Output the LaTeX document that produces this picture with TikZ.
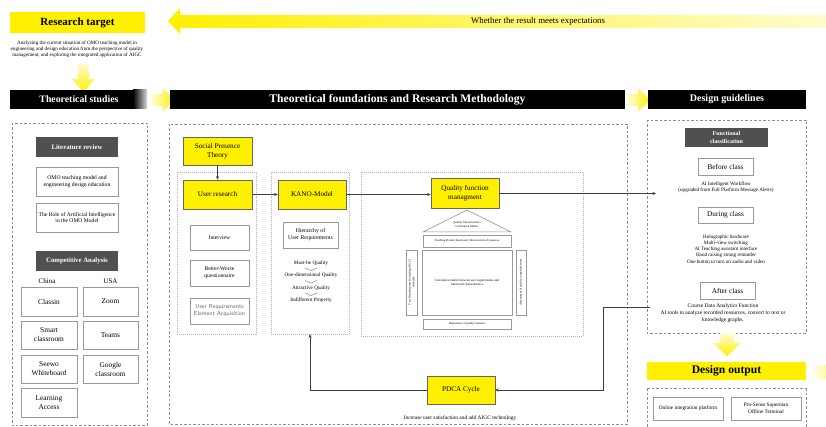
\documentclass[tikz,border=0pt]{standalone}
\usepackage{fontspec}
\setmainfont{Liberation Serif}
\usetikzlibrary{arrows.meta}
\definecolor{ylw}{RGB}{255,240,0}
\definecolor{dgray}{RGB}{80,80,80}
\begin{document}
\begin{tikzpicture}[x=1pt,y=-1pt,
  fs/.style={font=\fontsize{#1}{\fpeval{#1*1.22}}\selectfont},
  box/.style={draw=black!40, line width=0.5pt, fill=white, align=center, inner sep=1pt, fs=5.5},
  ybox/.style={draw=black!60, line width=0.5pt, fill=ylw, align=center, inner sep=1pt, fs=7.2},
  dbox/.style={fill=dgray, text=white, align=center, inner sep=1pt, font=\bfseries\fontsize{6.8}{8}\selectfont},
  bar/.style={fill=black, text=white, inner sep=0pt},
  dashbox/.style={draw=black!45, line width=0.5pt, dash pattern=on 2.5pt off 2pt},
  dotbox/.style={draw=black!30, line width=0.4pt, dash pattern=on 1pt off 1pt},
  conn/.style={draw=black!75, line width=0.7pt, -{Stealth[length=3.5pt,width=3pt]}},
  txt/.style={align=center, inner sep=0pt, fs=5}
]
\useasboundingbox[fill=white] (0,0) rectangle (826,427);

% ---------- top feedback arrow ----------
\shade[left color=ylw, right color=ylw!20] (168,21) -- (180,8) -- (180,15) -- (826,15) -- (826,28) -- (180,28) -- (180,34) -- cycle;
\node[inner sep=0pt, fs=8.8] (whether) at (538,21) {Whether the result meets expectations};

% ---------- research target ----------
\node[fill=ylw, minimum width=135, minimum height=21, inner sep=0pt, font=\bfseries\fontsize{11}{12}\selectfont] (rt) at (77.5,22.5) {Research target};
\node[txt, fs=5.1] (rtdesc) at (77,49) {Analyzing the current situation of OMO teaching model in\\engineering and design education from the perspective of quality\\management, and exploring the integrated application of AIGC};
\shade[top color=ylw!15, bottom color=ylw] (78,63) -- (89,63) -- (89,79) -- (95,79) -- (83.5,92) -- (72,79) -- (78,79) -- cycle;

% ---------- header bars ----------
\fill[black] (10,90) rectangle (133,109);
\shade[left color=black, right color=black!15] (133,90) rectangle (147,109);
\node[inner sep=0pt, text=white, font=\bfseries\fontsize{9.8}{11}\selectfont] (ts) at (79,99.5) {Theoretical studies};
\shade[left color=ylw!10, right color=ylw] (150,94) -- (163,94) -- (163,88) -- (174,100) -- (163,112) -- (163,106) -- (150,106) -- cycle;
\node[bar, minimum width=455, minimum height=19, font=\bfseries\fontsize{11.6}{13}\selectfont] (tf) at (397.5,99.5) {Theoretical foundations and Research Methodology};
\shade[left color=ylw!10, right color=ylw] (626,94) -- (638,94) -- (638,88) -- (650,100) -- (638,112) -- (638,106) -- (626,106) -- cycle;
\node[bar, minimum width=158, minimum height=19, font=\bfseries\fontsize{10}{12}\selectfont] (dg) at (727,99.5) {Design guidelines};

% ---------- left column ----------
\draw[dashbox] (12,123) rectangle (147,425);
\node[dbox, minimum width=82, minimum height=20] (lit) at (77,147) {Literature review};
\node[box, minimum width=82, minimum height=29, fs=5.7] (omo) at (77,181.5) {OMO teaching model and\\engineering design education};
\node[box, minimum width=82, minimum height=29, fs=5.6] (role) at (77,217.5) {The Role of Artificial Intelligence\\in the OMO Model};
\node[dbox, minimum width=82, minimum height=20] (comp) at (77,261) {Competitive Analysis};
\node[inner sep=0pt, fs=7] (china) at (47,281) {China};
\node[inner sep=0pt, fs=7] (usa) at (110.5,281) {USA};
\node[box, minimum width=56, minimum height=29, fs=7.4] (classin) at (49,301.5) {Classin};
\node[box, minimum width=55, minimum height=29, fs=7.4] (zoom) at (110.5,301.5) {Zoom};
\node[box, minimum width=56, minimum height=28, fs=7.4] (smart) at (49,335) {Smart\\classroom};
\node[box, minimum width=55, minimum height=28, fs=7.4] (teams) at (110.5,335) {Teams};
\node[box, minimum width=56, minimum height=28, fs=7.4] (seewo) at (49,369) {Seewo\\Whiteboard};
\node[box, minimum width=55, minimum height=28, fs=7.4] (google) at (110.5,369) {Google\\classroom};
\node[box, minimum width=56, minimum height=29, fs=7.4] (learn) at (49,402.5) {Learning\\Access};

% ---------- middle ----------
\draw[dashbox] (169,124) rectangle (627,424);
\node[dotbox, minimum width=79, minimum height=162] (ucol) at (216.5,253) {};
\node[dotbox, minimum width=78, minimum height=162] (kcol) at (310,253) {};
\node[dotbox, minimum width=222, minimum height=164] (qcol) at (472,254) {};

\node[ybox, minimum width=69, minimum height=28] (spt) at (217.5,151) {Social Presence\\Theory};
\node[ybox, minimum width=69, minimum height=29] (ur) at (217.5,194.5) {User research};
\node[box, minimum width=59, minimum height=25, fs=5.6] (interview) at (219.5,237.5) {Interview};
\node[box, minimum width=59, minimum height=26, fs=5.6] (bw) at (219.5,273) {Better-Worse\\questionnaire};
\node[box, minimum width=59, minimum height=26, text=black!60, font=\sffamily\fontsize{5.8}{7}\selectfont] (urea) at (219.5,311) {User Requirements\\Element Acquisition};

\node[ybox, minimum width=68, minimum height=29] (kano) at (312,194.5) {KANO-Model};
\node[box, minimum width=55, minimum height=26, fs=5.8] (hier) at (310.5,235) {Hierarchy of\\User Requirements};
\node[txt, fs=5.2] (must) at (311,263) {Must-be Quality};
\node[txt, fs=5.2] (onedim) at (311,275.5) {One-dimensional Quality};
\node[txt, fs=5.2] (attr) at (311,288) {Attractive Quality};
\node[txt, fs=5.2] (indiff) at (311,300.5) {Indifferent Property};
\foreach \yy in {268,280.5,293}
  \draw[black!60, line width=0.35pt] (305,\yy) .. controls (308,\yy+2.2) .. (311,\yy+2.6) .. controls (314,\yy+2.2) .. (317,\yy);

\node[ybox, minimum width=68, minimum height=30] (qfm) at (465,193.5) {Quality function\\managment};
\draw[black!45, line width=0.5pt] (467,210) -- (511,232) -- (423,232) -- cycle;
\node[txt, fs=3] (roof) at (467,224.5) {Quality Characteristics\\Correlation Matrix};
\node[box, minimum width=88, minimum height=12, fs=2.9] (tpfce) at (467,241) {Teaching Product Functional Characteristics Expansion};
\node[box, minimum width=90, minimum height=65, fs=3.2] (corr) at (467,282.5) {Correlation matrix between user requirements and\\functional characteristics};
\node[box, minimum width=65, minimum height=11, fs=3, rotate=90] (lv) at (411.5,282.5) {User Requirements (including AIGC)\\elements};
\node[box, minimum width=65, minimum height=10, fs=3, rotate=90] (rv) at (521,282.5) {Assessment of quality competitiveness};
\node[box, minimum width=88, minimum height=10, fs=3] (imp) at (467,324) {Importance of quality features};

\node[ybox, minimum width=68, minimum height=28] (pdca) at (461,390) {PDCA Cycle};
\node[txt, fs=5.4] (inc) at (460,418) {Increase user satisfaction and add AIGC technology};

% ---------- design guidelines ----------
\draw[dashbox] (647,120) rectangle (806,333);
\node[dbox, minimum width=83, minimum height=19, font=\bfseries\fontsize{6}{7.4}\selectfont] (fc) at (726.5,137.5) {Functional\\classification};
\node[box, minimum width=55, minimum height=17, fs=7.3] (before) at (725.5,166.5) {Before class};
\node[txt, fs=5.1] (bt) at (726,187) {AI Intelligent Workflow\\(upgraded from Full Platform Message Alerts)};
\node[box, minimum width=55, minimum height=16, fs=7.3] (during) at (725.5,215) {During class};
\node[txt, fs=5.1] (dt) at (726,249) {Holographic hardware\\Multi-view switching\\AI Teaching assistant interface\\Hand raising strong reminder\\One button to turn on audio and video};
\node[box, minimum width=55, minimum height=17, fs=7.3] (after) at (727.5,290.5) {After class};
\node[txt, fs=5.5] (at) at (723,313) {Course Data Analytics Function\\AI tools to analyze recorded resources, convert to text or\\knowledge graphs.};

\shade[top color=ylw!15, bottom color=ylw] (720,333) -- (734,333) -- (734,343) -- (741,343) -- (727,356) -- (713,343) -- (720,343) -- cycle;
\node[fill=ylw, minimum width=159, minimum height=18, inner sep=0pt, font=\bfseries\fontsize{11.6}{13}\selectfont] (dout) at (726.5,371) {Design output};
\shade[left color=white, right color=ylw!35] (810,365) rectangle (826,378);
\draw[dashbox] (647,388) -- (806,388) (647,388) -- (647,427) (806,388) -- (806,427);
\node[box, minimum width=70, minimum height=23, fs=5.3] (online) at (688,408.5) {Online integration platform};
\node[box, minimum width=70, minimum height=23, fs=5.3] (pro) at (766,408.5) {Pro-Sense Superman\\Offline Terminal};

% ---------- connectors ----------
\coordinate (qin) at (656,193.5);
\coordinate (fb) at (650,307);
\draw[conn] (spt) -- (ur);
\draw[conn] (ur.east) -- (kano.west);
\draw[conn] (kano.east) -- (kano.east -| qfm.west);
\draw[conn] (qfm) -- (qin);
\draw[conn] (fb) -- (603,307) -- (603,390) -- (pdca.east);
\draw[conn] (pdca.west) -| (kcol.south);
\end{tikzpicture}
\end{document}
